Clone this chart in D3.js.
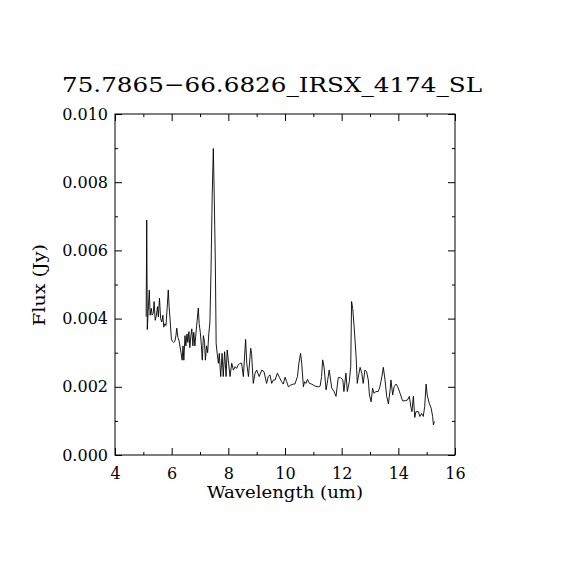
<!DOCTYPE html>
<html lang="en">
  <head>
    <meta charset="UTF-8" />
    <title>IRS spectrum</title>
    <script src="https://cdn.jsdelivr.net/npm/d3@7"></script>
  </head>
  <body>
    <svg></svg>
    <style>
      body {
        margin: 0;
        background: #fff;
      }
      svg {
        width: 570px;
        height: 570px;
        display: block;
      }
      text {
        font-family: "DejaVu Serif", "Liberation Serif", serif;
        fill: #000;
      }
    </style>
    <script>
      const title = "75.7865\u221266.6826_IRSX_4174_SL";
      const xLabel = "Wavelength (um)";
      const yLabel = "Flux (Jy)";
      const xTicks = [4, 6, 8, 10, 12, 14, 16];
      const yTicks = [0, 0.002, 0.004, 0.006, 0.008, 0.01];

      // wavelength (um) and flux (mJy, converted to Jy below)
      const wavelength = [
        5.10, 5.12, 5.14, 5.17, 5.21, 5.24, 5.28, 5.31, 5.35, 5.38, 5.42, 5.46, 5.50, 5.53,
        5.57, 5.61, 5.65, 5.69, 5.72, 5.76, 5.80, 5.84, 5.88, 5.91, 5.95, 5.99,
        6.03, 6.07, 6.11, 6.15, 6.18, 6.22, 6.26, 6.29, 6.33, 6.37, 6.40, 6.43, 6.47, 6.50,
        6.54, 6.57, 6.61, 6.64, 6.68, 6.71, 6.75, 6.78, 6.82, 6.86, 6.90, 6.94, 6.97,
        7.01, 7.05, 7.08, 7.12, 7.16, 7.19, 7.23, 7.27, 7.31, 7.35, 7.39, 7.43, 7.47, 7.50,
        7.54, 7.57, 7.61,
        7.65, 7.68, 7.73, 7.78, 7.82, 7.87, 7.92, 7.96, 8.01, 8.06, 8.12, 8.18, 8.24, 8.29,
        8.35, 8.41, 8.47, 8.53, 8.61, 8.65, 8.71, 8.79, 8.82, 8.88, 8.94, 9.00, 9.09, 9.18,
        9.26, 9.35, 9.41,
        9.47, 9.53, 9.59, 9.65, 9.73, 9.80, 9.88, 9.94, 10.00, 10.06, 10.12, 10.20, 10.29,
        10.35, 10.44, 10.49, 10.55, 10.59, 10.65, 10.69, 10.74, 10.79, 10.86, 10.94, 11.06,
        11.18, 11.24, 11.29, 11.33, 11.38, 11.45, 11.49, 11.56, 11.61, 11.65, 11.73, 11.80,
        11.88, 11.96, 12.04, 12.08, 12.15, 12.20, 12.27, 12.32, 12.35, 12.39, 12.44, 12.51,
        12.55, 12.60, 12.65, 12.71, 12.76, 12.82, 12.88, 12.94, 12.98, 13.04, 13.09, 13.14,
        13.21, 13.29, 13.35, 13.42, 13.47, 13.53, 13.59, 13.65, 13.71, 13.74, 13.80, 13.85,
        13.92, 13.98, 14.06, 14.15, 14.24, 14.32, 14.39, 14.44, 14.48, 14.53, 14.58, 14.62,
        14.71, 14.76, 14.82, 14.88, 14.93, 14.98, 15.02, 15.09, 15.16, 15.21, 15.24, 15.27
      ];
      const fluxMJy = [
        4.06, 6.89, 3.68, 4.20, 4.84, 4.10, 4.30, 4.10, 4.15, 4.50, 3.95, 4.10, 4.35, 4.05,
        4.60, 4.00, 3.90, 4.10, 3.75, 3.85, 3.80, 4.30, 4.84, 4.35, 3.90, 3.40,
        3.33, 3.30, 3.33, 3.50, 3.72, 3.45, 3.35, 3.20, 3.00, 2.78, 3.20, 2.78, 3.50, 3.20,
        3.55, 3.30, 3.62, 3.15, 3.50, 3.70, 3.20, 3.60, 3.20, 3.60, 3.95, 4.31, 3.85,
        3.60, 3.20, 2.78, 3.50, 3.30, 2.78, 3.20, 3.00, 3.55, 3.90, 5.47, 7.57, 8.99, 7.72,
        5.72, 3.27, 2.95,
        2.69, 2.98, 2.30, 2.98, 2.30, 3.03, 2.30, 3.08, 2.69, 2.30, 2.69, 2.49, 2.59, 2.54,
        2.64, 2.69, 2.69, 2.30, 3.39, 2.69, 2.30, 3.13, 2.98, 2.10, 2.39, 2.49, 2.30, 2.49,
        2.44, 2.10, 2.30,
        2.35, 2.10, 2.20, 2.20, 2.40, 2.28, 2.15, 2.08, 2.28, 2.15, 2.00, 2.05, 2.08,
        2.08, 2.30, 2.69, 2.98, 2.69, 2.00, 2.15, 2.10, 2.22, 2.10, 2.08, 2.02,
        2.00, 2.02, 2.30, 2.79, 2.57, 1.91, 2.10, 2.49, 2.20, 1.96, 1.86, 1.72,
        2.27, 2.27, 2.20, 1.86, 2.40, 1.86, 2.15, 2.59, 4.50, 4.30, 3.76, 2.88,
        2.10, 2.35, 2.57, 2.40, 2.10, 2.49, 2.44, 2.20, 1.76, 1.56, 1.96, 1.81,
        1.86, 1.86, 2.00, 2.30, 2.57, 2.20, 1.72, 1.50, 1.91, 2.20, 1.76, 2.00,
        2.08, 2.00, 1.81, 1.59, 1.59, 1.61, 1.72, 1.42, 1.27, 1.72, 1.10, 1.27,
        1.27, 1.13, 1.22, 1.13, 1.42, 2.08, 1.76, 1.52, 1.37, 1.13, 0.88, 0.98
      ];
      const spectrum = wavelength.map((w, i) => ({ w: w, f: fluxMJy[i] / 1000 }));

      const svg = d3.select("svg");
      const margin = { top: 114, right: 115, bottom: 115, left: 115 };
      const width = 570 - margin.left - margin.right;
      const height = 570 - margin.top - margin.bottom;
      const g = svg.append("g").attr("transform", `translate(${margin.left},${margin.top})`);

      const x = d3.scaleLinear().domain([4, 16]).range([0, width]);
      const y = d3.scaleLinear().domain([0, 0.01]).range([height, 0]);

      // ticks on all four sides, pointing in; minor ones every 1 um / 0.001 Jy
      const xMinor = d3.range(5, 16, 2);
      const yMinor = d3.range(0.001, 0.01, 0.002);
      const tickStyle = (sel) => {
        sel.select(".domain").remove();
        sel.selectAll("line").attr("stroke", "#000").attr("stroke-width", 1);
      };

      g.append("g")
        .attr("transform", `translate(0,${height})`)
        .call(d3.axisBottom(x).tickValues(xTicks).tickSizeInner(-7).tickSizeOuter(0).tickPadding(10).tickFormat(d3.format("d")))
        .call(tickStyle)
        .call((s) => s.selectAll("text").attr("font-size", 16).attr("font-family", "DejaVu Serif").attr("dy", "0.9em"));
      g.append("g")
        .attr("transform", `translate(0,${height})`)
        .call(d3.axisBottom(x).tickValues(xMinor).tickSize(-3).tickFormat(""))
        .call(tickStyle);
      g.append("g")
        .call(d3.axisTop(x).tickValues(xTicks).tickSize(-7).tickFormat(""))
        .call(tickStyle);
      g.append("g")
        .call(d3.axisTop(x).tickValues(xMinor).tickSize(-3).tickFormat(""))
        .call(tickStyle);

      g.append("g")
        .call(d3.axisLeft(y).tickValues(yTicks).tickSizeInner(-7).tickSizeOuter(0).tickPadding(7).tickFormat(d3.format(".3f")))
        .call(tickStyle)
        .call((s) => s.selectAll("text").attr("font-size", 16).attr("font-family", "DejaVu Serif"));
      g.append("g")
        .call(d3.axisLeft(y).tickValues(yMinor).tickSize(-3).tickFormat(""))
        .call(tickStyle);
      g.append("g")
        .attr("transform", `translate(${width},0)`)
        .call(d3.axisRight(y).tickValues(yTicks).tickSize(-7).tickFormat(""))
        .call(tickStyle);
      g.append("g")
        .attr("transform", `translate(${width},0)`)
        .call(d3.axisRight(y).tickValues(yMinor).tickSize(-3).tickFormat(""))
        .call(tickStyle);

      // frame
      g.append("rect")
        .attr("width", width)
        .attr("height", height)
        .attr("fill", "none")
        .attr("stroke", "#000")
        .attr("stroke-width", 1);

      const line = d3.line().x((d) => x(d.w)).y((d) => y(d.f));
      g.append("path")
        .datum(spectrum)
        .attr("d", line)
        .attr("fill", "none")
        .attr("stroke", "#000")
        .attr("stroke-width", 0.9);

      svg.append("text")
        .attr("x", 272)
        .attr("y", 92)
        .attr("text-anchor", "middle")
        .attr("font-size", 21)
        .attr("textLength", 420)
        .attr("lengthAdjust", "spacingAndGlyphs")
        .text(title);

      svg.append("text")
        .attr("x", 285)
        .attr("y", 498)
        .attr("text-anchor", "middle")
        .attr("font-size", 16)
        .attr("textLength", 156)
        .attr("lengthAdjust", "spacingAndGlyphs")
        .text(xLabel);

      svg.append("text")
        .attr("transform", "translate(45,285) rotate(-90)")
        .attr("text-anchor", "middle")
        .attr("font-size", 16)
        .attr("textLength", 82)
        .attr("lengthAdjust", "spacingAndGlyphs")
        .text(yLabel);
    </script>
  </body>
</html>
